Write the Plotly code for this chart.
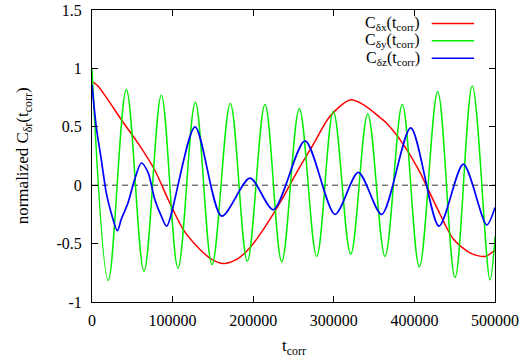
import plotly.graph_objects as go

# ---- data ----
red_t = [0, 7400, 19900, 36400, 57100, 77800, 94300, 113300, 134000, 148500, 162900,
         179500, 196000, 212500, 233300, 254000, 274600, 295300, 320100, 336600,
         357300, 365600, 386200, 406900, 427700, 448300, 469000, 487600, 500000]
red_v = [0.89, 0.85, 0.73, 0.56, 0.36, 0.13, -0.12, -0.38, -0.55, -0.635, -0.67,
         -0.635, -0.535, -0.38, -0.15, 0.11, 0.35, 0.59, 0.73, 0.69,
         0.58, 0.53, 0.35, 0.11, -0.19, -0.46, -0.58, -0.61, -0.555]

green_t = [0, 20200, 42600, 64500, 86000, 106700, 128200, 148900, 171600, 192700,
           214600, 235400, 257200, 278800, 299400, 321000, 342100, 363500, 385000,
           406100, 428900, 450400, 471800, 493800, 500000]
green_v = [1.0, -0.815, 0.82, -0.735, 0.77, -0.71, 0.71, -0.68, 0.70, -0.65,
           0.69, -0.655, 0.655, -0.61, 0.63, -0.59, 0.61, -0.61, 0.69,
           -0.70, 0.80, -0.79, 0.85, -0.81, -0.44]

blue_t = [0, 5300, 11500, 17700, 23900, 31400, 36400, 44700, 53000, 61200, 69500,
          77800, 86000, 92700, 127800, 160900, 196000, 225000, 264300, 301500,
          330400, 359400, 395400, 430500, 460700, 489700, 500000]
blue_v = [0.86, 0.5, 0.22, -0.065, -0.24, -0.39, -0.29, -0.15, 0.05, 0.19, 0.11,
          -0.12, -0.265, -0.35, 0.50, -0.265, 0.06, -0.21, 0.38, -0.25,
          0.11, -0.25, 0.49, -0.35, 0.18, -0.34, -0.19]

x_ticks = [0, 100000, 200000, 300000, 400000, 500000]
x_labels = ["0", "100000", "200000", "300000", "400000", "500000"]
y_ticks = [-1, -0.5, 0, 0.5, 1, 1.5]
y_labels = ["-1", "-0.5", "0", "0.5", "1", "1.5"]

legend_names = ["C<sub>δx</sub>(t<sub>corr</sub>)",
                "C<sub>δy</sub>(t<sub>corr</sub>)",
                "C<sub>δz</sub>(t<sub>corr</sub>)"]

RED, GREEN, BLUE = "#ff0000", "#00ee00", "#0000ff"
FONT = "Liberation Serif"

fig = go.Figure()
fig.add_trace(go.Scatter(x=red_t, y=red_v, mode="lines",
                         line=dict(color=RED, width=1.5, shape="spline", smoothing=0.8)))
fig.add_trace(go.Scatter(x=green_t, y=green_v, mode="lines",
                         line=dict(color=GREEN, width=1.5, shape="spline", smoothing=1.0)))
fig.add_trace(go.Scatter(x=blue_t, y=blue_v, mode="lines",
                         line=dict(color=BLUE, width=1.7, shape="spline", smoothing=0.8)))

# zero line
fig.add_shape(type="line", xref="x", yref="y", x0=0, x1=500000, y0=0, y1=0,
              line=dict(color="#333333", width=1, dash="6px,4px"), layer="below")

# manual gnuplot-style legend (text left, sample right)
rows_y = [0.954, 0.895, 0.835]
for name, col, yy in zip(legend_names, [RED, GREEN, BLUE], rows_y):
    fig.add_annotation(text=name, xref="paper", yref="paper", x=0.818, y=yy,
                       xanchor="right", yanchor="middle", showarrow=False,
                       font=dict(family=FONT, size=16, color="black"))
    fig.add_shape(type="line", xref="paper", yref="paper", x0=0.843, x1=0.948,
                  y0=yy, y1=yy, line=dict(color=col, width=1.5))

# axis titles as annotations for exact placement
fig.add_annotation(text="t<sub>corr</sub>", xref="paper", yref="paper", x=0.5, y=-0.155,
                   xanchor="center", yanchor="middle", showarrow=False,
                   font=dict(family=FONT, size=17, color="black"))
fig.add_annotation(text="normalized C<sub>δr</sub>(t<sub>corr</sub>)", xref="paper", yref="paper",
                   x=-0.168, y=0.5, xanchor="center", yanchor="middle", textangle=-90,
                   showarrow=False, font=dict(family=FONT, size=17, color="black"))

axis_common = dict(showline=True, linecolor="black", linewidth=1, mirror="ticks",
                   ticks="inside", ticklen=6, tickcolor="black", showgrid=False,
                   zeroline=False, automargin=False,
                   tickfont=dict(family=FONT, size=16, color="black"))

fig.update_xaxes(range=[0, 500000], tickvals=x_ticks, ticktext=x_labels,
                 ticklabelstandoff=4, **axis_common)
fig.update_yaxes(range=[-1, 1.5], tickvals=y_ticks, ticktext=y_labels,
                 ticklabelstandoff=6, **axis_common)

fig.update_layout(width=524, height=362, margin=dict(l=92, r=29, t=10, b=60),
                  paper_bgcolor="white", plot_bgcolor="white", showlegend=False,
                  font=dict(family=FONT, size=16, color="black"))

# remove the default 8px page margin so the figure sits at the window's corner
fig.write_html("out.html", config={"displayModeBar": False},
               post_script="document.body.style.margin='0';document.body.style.overflow='hidden';")
